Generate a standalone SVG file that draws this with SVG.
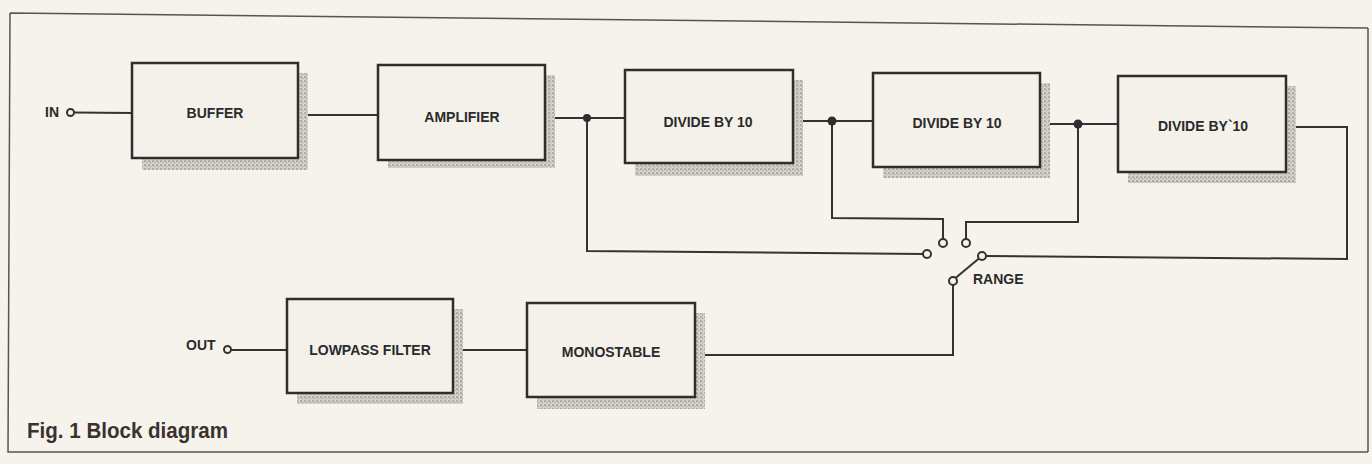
<svg xmlns="http://www.w3.org/2000/svg" width="1372" height="464" viewBox="0 0 1372 464">
  <defs>
    <pattern id="stipple" width="4" height="4" patternUnits="userSpaceOnUse">
      <rect width="4" height="4" fill="#d3d0c8"/>
      <rect x="0" y="0" width="2" height="2" fill="#aeaba4"/>
      <rect x="2" y="2" width="1" height="1" fill="#a09d96"/>
    </pattern>
  </defs>
  <style>
    .box { fill: #f4f1ea; stroke: #2e2e2e; stroke-width: 2.5; }
    .shadow { fill: url(#stipple); }
    .lbl { font-family: "Liberation Sans", Arial, sans-serif; font-weight: bold; font-size: 14px; fill: #2a2a2a; text-anchor: middle; }
    .term { font-family: "Liberation Sans", Arial, sans-serif; font-weight: bold; font-size: 14px; fill: #2a2a2a; }
    .wire { fill: none; stroke: #333; stroke-width: 2; stroke-linejoin: miter; }
    .dot { fill: #2e2e2e; }
    .contact { fill: #f6f3ec; stroke: #333; stroke-width: 2; }
    .frame { fill: none; stroke: #555; stroke-width: 1.5; }
    .caption { font-family: "Liberation Sans", Arial, sans-serif; font-size: 22px; font-weight: bold; fill: #3a3230; }
  </style>
  <rect width="1372" height="464" fill="#f6f3ec"/>

  <path class="frame" d="M10,13 L1368,28 M10,13 L8,452 L1368,452 M1368,28 L1368,452"/>

  <g id="connectors">
    <path class="wire" d="M74,112.5 L132,113"/>
    <path class="wire" d="M298,115 L378,115"/>
    <path class="wire" d="M545,118 L625,118"/>
    <path class="wire" d="M793,121 L873,121"/>
    <path class="wire" d="M1040,124 L1118,124"/>
    <path class="wire" d="M1286,127 L1347,127 L1347,259 L986,256"/>
    <path class="wire" d="M587,118 L587,251 L923,254"/>
    <path class="wire" d="M832,121 L832,218 L943,219 L943,239"/>
    <path class="wire" d="M1078,124 L1078,222 L966,222 L966,239"/>
    <path class="wire" d="M955.5,278 L979.5,258"/>
    <path class="wire" d="M953,285 L953,355 L695,355"/>
    <path class="wire" d="M453,350 L527,350"/>
    <path class="wire" d="M231,350 L287,350"/>
    <circle class="dot" cx="587" cy="118" r="4"/>
    <circle class="dot" cx="832" cy="121" r="4.5"/>
    <circle class="dot" cx="1078" cy="124" r="4.5"/>
  </g>

  <g id="in">
    <text class="term" x="45" y="117">IN</text>
    <circle class="contact" cx="70.5" cy="112.5" r="3.5"/>
  </g>

  <g id="buffer">
    <rect class="shadow" x="142" y="73" width="166" height="97"/>
    <rect class="box" x="132" y="63" width="166" height="95"/>
    <text class="lbl" x="215" y="118">BUFFER</text>
  </g>

  <g id="amplifier">
    <rect class="shadow" x="388" y="75" width="167" height="93"/>
    <rect class="box" x="378" y="65" width="167" height="95"/>
    <text class="lbl" x="462" y="122">AMPLIFIER</text>
  </g>

  <g id="divide1">
    <rect class="shadow" x="635" y="80" width="168" height="96"/>
    <rect class="box" x="625" y="70" width="168" height="93"/>
    <text class="lbl" x="708" y="127">DIVIDE BY 10</text>
  </g>

  <g id="divide2">
    <rect class="shadow" x="883" y="83" width="167" height="95"/>
    <rect class="box" x="873" y="73" width="167" height="94"/>
    <text class="lbl" x="957" y="128">DIVIDE BY 10</text>
  </g>

  <g id="divide3">
    <rect class="shadow" x="1128" y="86" width="168" height="97"/>
    <rect class="box" x="1118" y="76" width="168" height="96"/>
    <text class="lbl" x="1203" y="131">DIVIDE BY`10</text>
  </g>

  <g id="range-switch">
    <circle class="contact" cx="927" cy="254" r="4"/>
    <circle class="contact" cx="943" cy="243" r="4"/>
    <circle class="contact" cx="966" cy="243" r="4"/>
    <circle class="contact" cx="982" cy="256" r="4"/>
    <circle class="contact" cx="953" cy="281" r="4"/>
    <text class="term" x="973" y="284">RANGE</text>
  </g>

  <g id="monostable">
    <rect class="shadow" x="537" y="313" width="168" height="96"/>
    <rect class="box" x="527" y="303" width="168" height="94"/>
    <text class="lbl" x="611" y="357">MONOSTABLE</text>
  </g>

  <g id="lowpass">
    <rect class="shadow" x="297" y="309" width="166" height="95"/>
    <rect class="box" x="287" y="299" width="166" height="94"/>
    <text class="lbl" x="370" y="355">LOWPASS FILTER</text>
  </g>

  <g id="out">
    <text class="term" x="186" y="350">OUT</text>
    <circle class="contact" cx="227.5" cy="349.5" r="3.5"/>
  </g>

  <text class="caption" x="27" y="438" textLength="201" lengthAdjust="spacingAndGlyphs">Fig. 1 Block diagram</text>
</svg>
